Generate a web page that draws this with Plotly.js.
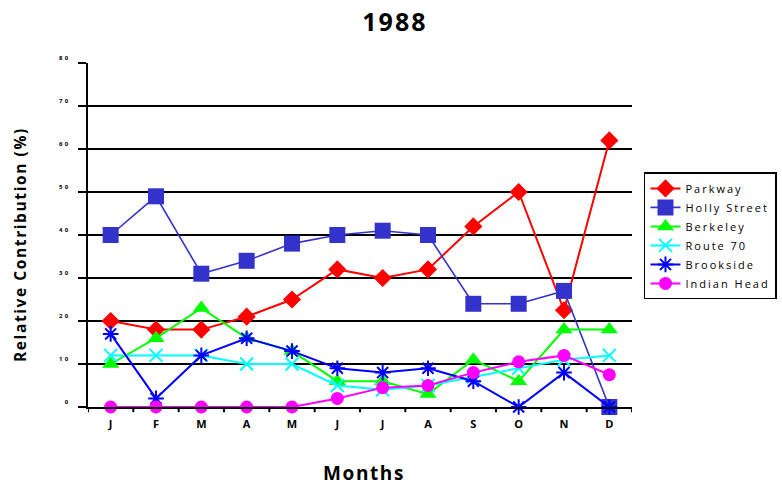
<!DOCTYPE html>
<html>
<head>
<meta charset="utf-8">
<script src="https://cdn.plot.ly/plotly-3.0.1.min.js"></script>
<style>
  html, body { margin: 0; padding: 0; background: #fff; }
  #chart { width: 782px; height: 487px; }
  .ytick text { letter-spacing: 2.5px; }
  .legendtext { letter-spacing: 2px; }
  .g-gtitle text { letter-spacing: 2px; }
  .annotation-text { letter-spacing: 1.6px; }
</style>
</head>
<body>
<div id="chart"></div>
<script>
// Monthly relative contribution (%) per source, 1988
const months = ['J', 'F', 'M', 'A', 'M', 'J', 'J', 'A', 'S', 'O', 'N', 'D'];
const parkway     = [20, 18, 18, 21, 25, 32, 30, 32, 42, 50, 22.5, 62];
const hollyStreet = [40, 49, 31, 34, 38, 40, 41, 40, 24, 24, 27, 0];
const berkeley    = [10, 16, 23, 16, 13, 6, 6, 3, 11, 6, 18, 18];
const route70     = [12, 12, 12, 10, 10, 5, 4, 5, 7, 9, 11, 12];
const brookside   = [17, 2, 12, 16, 13, 9, 8, 9, 6, 0, 8, 0];
const indianHead  = [0, 0, 0, 0, 0, 2, 4.5, 5, 8, 10.5, 12, 7.5];
const yTicks = [0, 10, 20, 30, 40, 50, 60, 70, 80];

// x positions are category indices; labels come from `months`
const idx = months.map((_, i) => i);

function series(name, y, color, symbol, size, lineWidth) {
  return {
    type: 'scatter', mode: 'lines+markers', name: name,
    x: idx, y: y, cliponaxis: false,
    line: { color: color, width: lineWidth || 2 },
    marker: { color: color, symbol: symbol, size: size,
              line: { color: color, width: symbol.indexOf('open') >= 0 || symbol === 'x-thin' ? 2 : 0 } }
  };
}

const data = [
  series('Parkway', parkway, '#ff0000', 'diamond', 14),
  series('Holly Street', hollyStreet, '#3333cc', 'square', 16, 1.6),
  series('Berkeley', berkeley, '#00ff00', 'triangle-up', 15),
  series('Route 70', route70, '#00ffff', 'x-thin', 13),
  series('Brookside', brookside, '#0000ff', 'asterisk-open', 13),
  series('Indian Head', indianHead, '#ff00ff', 'circle', 13)
];

const font = 'Open Sans, DejaVu Sans, sans-serif';

const layout = {
  width: 782, height: 487,
  margin: { l: 88, r: 150, t: 63, b: 80 },
  paper_bgcolor: '#fff', plot_bgcolor: '#fff',
  font: { family: font, color: '#000' },
  showlegend: true,
  title: { text: '<b>1988</b>', x: 0.505, xanchor: 'center', y: 0.955, yanchor: 'middle',
           font: { size: 25, family: font, color: '#000' } },
  xaxis: {
    type: 'linear', range: [-0.5, 11.5], fixedrange: true,
    tickmode: 'array', tickvals: idx, ticktext: months.map(m => '<b>' + m + '</b>'),
    tickfont: { size: 11, family: font },
    ticklabelstandoff: 6,
    showgrid: false, zeroline: false,
    showline: true, linecolor: '#000', linewidth: 2,
    ticks: '', automargin: false
  },
  yaxis: {
    range: [0, 80], fixedrange: true,
    tickmode: 'array', tickvals: yTicks, ticktext: yTicks.map(v => '<b>' + v + '</b>'),
    tickfont: { size: 6, family: font },
    ticklabelstandoff: 6, ticklabelshift: -5,
    ticks: 'outside', ticklen: 8, tickwidth: 2, tickcolor: '#000',
    showgrid: true, gridcolor: '#000', gridwidth: 2,
    zeroline: false, showline: true, linecolor: '#000', linewidth: 2,
    automargin: false
  },
  legend: {
    xref: 'container', yref: 'container',
    x: 0.8235, xanchor: 'left', y: 0.646, yanchor: 'top',
    bgcolor: '#fff', bordercolor: '#000', borderwidth: 1.5,
    font: { size: 11, family: font, color: '#000' },
    tracegroupgap: 0, itemwidth: 30
  },
  annotations: [
    { text: '<b>Months</b>', xref: 'paper', yref: 'paper', x: 0.507, y: -0.192,
      xanchor: 'center', yanchor: 'middle', showarrow: false,
      font: { size: 19, family: font, color: '#000' } },
    { text: '<b>Relative Contribution (%)</b>', xref: 'paper', yref: 'paper', x: -0.125, y: 0.471,
      xanchor: 'center', yanchor: 'middle', showarrow: false, textangle: -90,
      font: { size: 15.5, family: font, color: '#000' } }
  ],
  shapes: idx.concat([12]).map(i => ({
    type: 'line', xref: 'x', yref: 'paper',
    x0: i - 0.5, x1: i - 0.5, y0: 0, y1: -0.015,
    line: { color: '#000', width: 2 }
  }))
};

Plotly.newPlot('chart', data, layout, { displayModeBar: false, staticPlot: true });
</script>
</body>
</html>
